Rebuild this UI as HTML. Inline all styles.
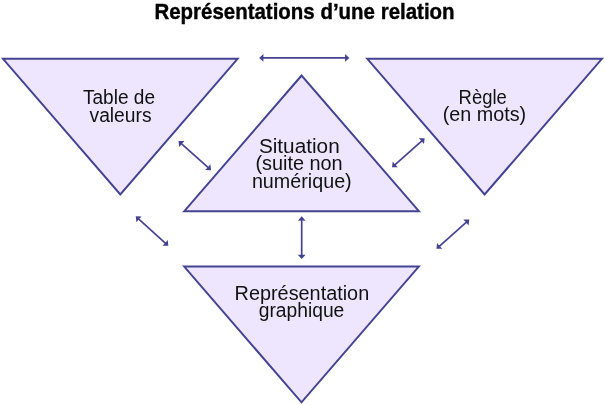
<!DOCTYPE html>
<html><head><meta charset="utf-8"><style>
html,body{margin:0;padding:0;background:#fff;}
svg{display:block;will-change:transform;}
text{font-family:"Liberation Sans",sans-serif;fill:#111;}
</style></head><body>
<svg width="605" height="405" viewBox="0 0 605 405">
<rect width="605" height="405" fill="#fff"/>
<polygon points="3,58.8 237.6,58.8 120.3,194.5" fill="#eee6ff" stroke="#45438f" stroke-width="2" stroke-linejoin="miter" stroke-miterlimit="10"/>
<polygon points="301.6,75.5 184.3,211.2 418.9,211.2" fill="#eee6ff" stroke="#45438f" stroke-width="2" stroke-linejoin="miter" stroke-miterlimit="10"/>
<polygon points="367.3,58.8 601.9,58.8 484.6,194.5" fill="#eee6ff" stroke="#45438f" stroke-width="2" stroke-linejoin="miter" stroke-miterlimit="10"/>
<polygon points="184.2,266.6 418.8,266.6 301.5,402.3" fill="#eee6ff" stroke="#45438f" stroke-width="2" stroke-linejoin="miter" stroke-miterlimit="10"/>
<line x1="261.74" y1="57.9" x2="346.76" y2="57.9" stroke="#45438f" stroke-width="1.7"/>
<polygon points="259.1,57.9 263.5,61.8 263.37,57.9 263.5,54" fill="#45438f"/>
<polygon points="349.4,57.9 345,61.8 345.13,57.9 345,54" fill="#45438f"/>
<line x1="180.5" y1="142.83" x2="209.1" y2="168.37" stroke="#45438f" stroke-width="1.7"/>
<polygon points="178.53,141.07 179.21,146.91 181.71,143.91 184.41,141.09" fill="#45438f"/>
<polygon points="211.07,170.13 205.19,170.11 207.89,167.29 210.39,164.29" fill="#45438f"/>
<line x1="422.7" y1="140.02" x2="394" y2="165.58" stroke="#45438f" stroke-width="1.7"/>
<polygon points="424.67,138.27 418.79,138.28 421.49,141.11 423.98,144.11" fill="#45438f"/>
<polygon points="392.03,167.33 392.72,161.49 395.21,164.49 397.91,167.32" fill="#45438f"/>
<line x1="137.69" y1="218.13" x2="166.41" y2="244.07" stroke="#45438f" stroke-width="1.7"/>
<polygon points="135.73,216.36 136.38,222.21 138.9,219.23 141.61,216.42" fill="#45438f"/>
<polygon points="168.37,245.84 162.49,245.78 165.2,242.97 167.72,239.99" fill="#45438f"/>
<line x1="467.3" y1="221.32" x2="438.4" y2="247.08" stroke="#45438f" stroke-width="1.7"/>
<polygon points="469.27,219.57 463.39,219.58 466.09,222.41 468.58,225.41" fill="#45438f"/>
<polygon points="436.43,248.83 437.12,242.99 439.61,245.99 442.31,248.82" fill="#45438f"/>
<line x1="301.7" y1="218.94" x2="301.7" y2="256.46" stroke="#45438f" stroke-width="1.7"/>
<polygon points="301.7,216.3 297.8,220.7 301.7,220.57 305.6,220.7" fill="#45438f"/>
<polygon points="301.7,259.1 297.8,254.7 301.7,254.83 305.6,254.7" fill="#45438f"/>
<text x="154.4" y="18.8" font-size="22.5" font-weight="bold" textLength="300.2" lengthAdjust="spacingAndGlyphs" style="fill:#000;stroke:#000;stroke-width:0.4px">Représentations d’une relation</text>
<text x="83" y="103.8" font-size="20" font-weight="normal" textLength="72" lengthAdjust="spacingAndGlyphs">Table de</text>
<text x="89.5" y="121.7" font-size="20" font-weight="normal" textLength="62.1" lengthAdjust="spacingAndGlyphs">valeurs</text>
<text x="258.9" y="152.5" font-size="20" font-weight="normal" textLength="80.8" lengthAdjust="spacingAndGlyphs">Situation</text>
<text x="255.4" y="170.3" font-size="20" font-weight="normal" textLength="87.3" lengthAdjust="spacingAndGlyphs">(suite non</text>
<text x="251.9" y="188.3" font-size="20" font-weight="normal" textLength="99.8" lengthAdjust="spacingAndGlyphs">numérique)</text>
<text x="458.6" y="103.8" font-size="20" font-weight="normal" textLength="48.2" lengthAdjust="spacingAndGlyphs">Règle</text>
<text x="442.7" y="121.4" font-size="20" font-weight="normal" textLength="83.5" lengthAdjust="spacingAndGlyphs">(en mots)</text>
<text x="234.6" y="299.8" font-size="20" font-weight="normal" textLength="134.6" lengthAdjust="spacingAndGlyphs">Représentation</text>
<text x="258.7" y="317.4" font-size="20" font-weight="normal" textLength="85.6" lengthAdjust="spacingAndGlyphs">graphique</text>
</svg>
</body></html>
